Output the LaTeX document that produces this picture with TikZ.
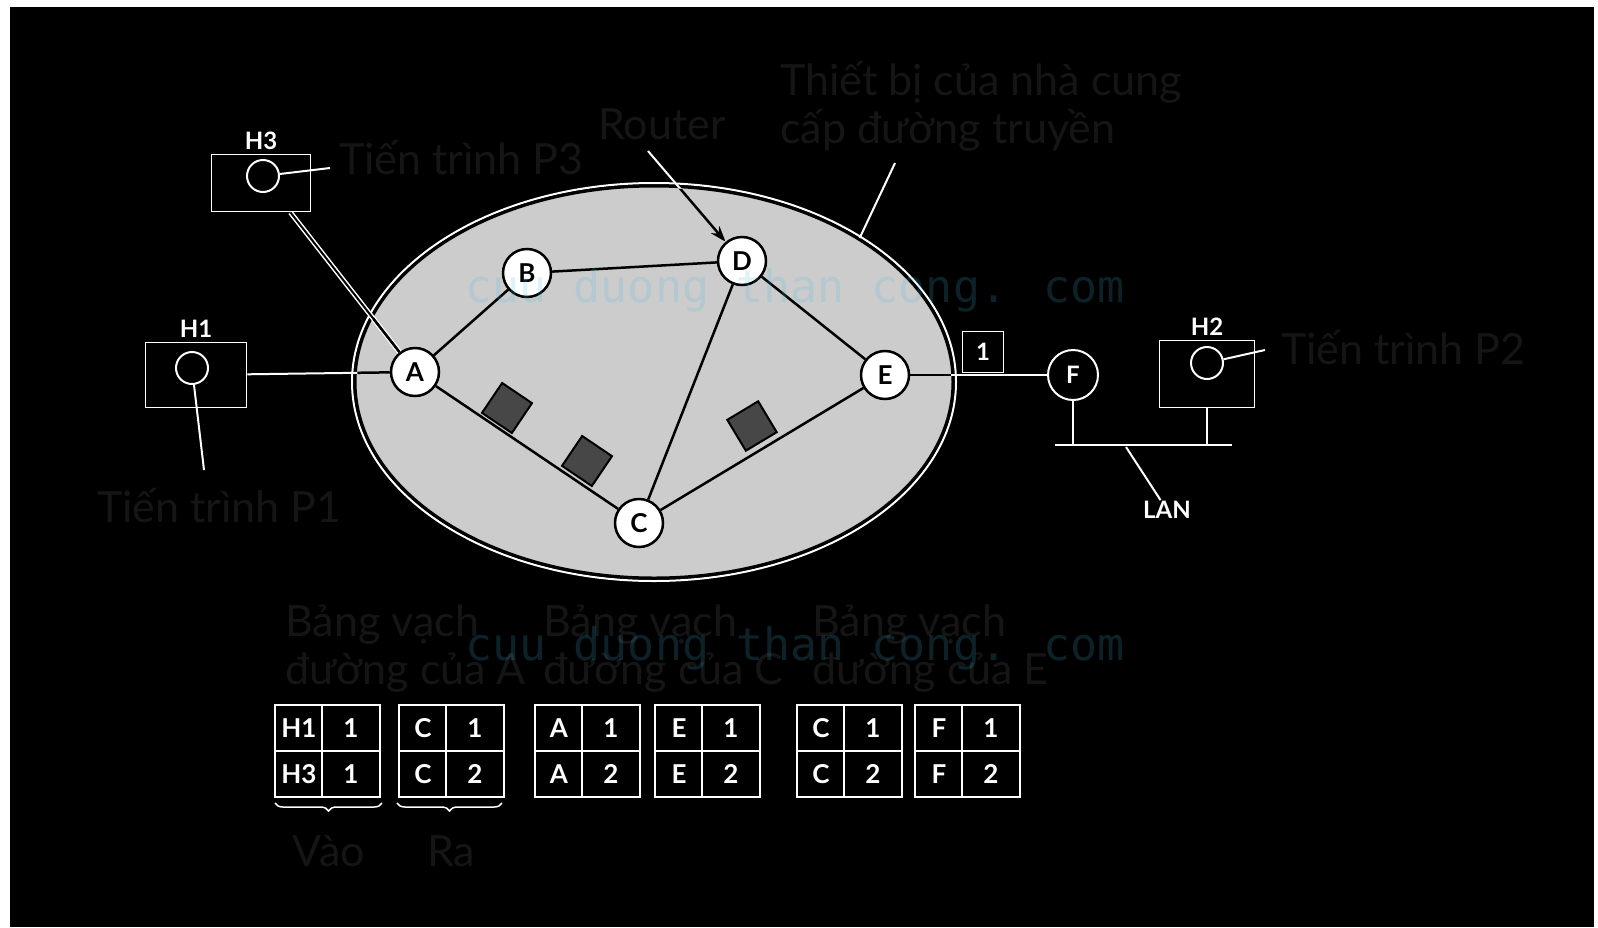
\documentclass[tikz,border=0pt]{standalone}
\usepackage{fontspec}
\setmainfont{Lato}
\newfontfamily\wmfont{DejaVu Sans Mono}
\usetikzlibrary{arrows.meta,positioning,shapes.geometric,decorations.pathreplacing}
\definecolor{inkdark}{HTML}{151515}
\definecolor{wmteal}{RGB}{67,183,222}
\definecolor{cloudgray}{HTML}{CCCCCC}

\begin{document}
\begin{tikzpicture}[
  x=1pt, y=-1pt,
  node distance=3pt,
  lbl/.style={text=inkdark, font=\fontsize{43}{48}\selectfont, inner sep=0pt},
  rtr/.style={circle, draw=black, line width=2.5pt, fill=white, minimum size=48pt, inner sep=0pt, font=\fontsize{26}{26}\selectfont\bfseries},
  pkt/.style={draw=black, line width=2pt, fill=black!72, minimum size=36pt, inner sep=0pt},
  hostbox/.style={draw=white, line width=1.8pt, inner sep=0pt},
  proc/.style={circle, draw=white, line width=2pt, minimum size=32pt, inner sep=0pt},
  wlbl/.style={text=white, font=\fontsize{24}{24}\selectfont\bfseries, inner sep=1pt},
  wire/.style={draw=white, line width=2pt},
  link/.style={draw=black, line width=2.5pt},
  tline/.style={draw=white, line width=1.5pt},
  cell/.style={text=white, font=\fontsize{26}{26}\selectfont\bfseries, inner sep=0pt},
  wmark/.style={text=wmteal, text opacity=0.18, font=\wmfont\fontsize{45}{45}\selectfont, inner sep=0pt}
]
\useasboundingbox (0,0) rectangle (1598,927);
\fill[white] (0,0) rectangle (1598,927);
\fill[black] (10,7) rectangle (1594,927);

% carrier network
\draw[white, line width=2pt] (654,382) ellipse [x radius=302pt, y radius=199pt];
\node[ellipse, draw=black, line width=3pt, fill=cloudgray, minimum width=598pt, minimum height=392pt] (net) at (654,382) {};

% routers
\node[rtr] (a) at (415,372) {A};
\node[rtr] (b) at (527,273) {B};
\node[rtr] (d) at (742,261) {D};
\node[rtr] (e) at (885,375) {E};
\node[rtr] (c) at (639,523) {C};

% hosts
\node[hostbox, minimum width=101pt, minimum height=65pt] (h1) at (196,375) {};
\node[proc] (p1) at (192,368) {};
\node[wlbl, above=of h1] (h1n) {H1};
\node[hostbox, minimum width=99pt, minimum height=57pt] (h3) at (261,183) {};
\node[proc] (p3) at (263,176) {};
\node[wlbl, above=of h3] (h3n) {H3};
\node[hostbox, minimum width=95pt, minimum height=67pt] (h2) at (1207,374) {};
\node[proc] (p2) at (1207,363) {};
\node[wlbl, above=of h2] (h2n) {H2};
\node[proc, minimum size=50pt, text=white, font=\fontsize{24}{24}\selectfont\bfseries] (f) at (1073,375) {F};
\node[hostbox, minimum width=41pt, minimum height=41pt, text=white, font=\fontsize{24}{24}\selectfont\bfseries] (pk4) at (983,352) {1};

% lines leaving the cloud
\coordinate (rtip) at (648,151);
\coordinate (ptip) at (895,163);
\draw[wire] (h1) -- (a);
\draw[wire, double=black, double distance=2pt, line width=1.5pt] (h3.-45) -- (a);
\draw[wire] (e) -- (f);
\draw[wire] (rtip) -- (d);
\draw[wire] (ptip) -- (net.35);
\begin{scope}
  \clip (654,382) ellipse [x radius=297pt, y radius=194pt];
  \draw[link] (h1) -- (a);
  \draw[link] (h3.-45) -- (a);
  \draw[link] (e) -- (f);
  \draw[link, -{Stealth[length=16pt, width=11pt]}] (rtip) -- (d);
\end{scope}

% links inside
\draw[link] (a) -- (b);
\draw[link] (b) -- (d);
\draw[link] (d) -- (c);
\draw[link] (d) -- (e);
\draw[link] (a) -- (c);
\draw[link] (c) -- (e);

% packets
\node[pkt, rotate=-34] (pk1) at (507,408) {};
\node[pkt, rotate=-34] (pk2) at (587,461) {};
\node[pkt, rotate=31] (pk3) at (752,426) {};

% LAN
\coordinate (busl) at (1055,445);
\coordinate (busr) at (1232,445);
\draw[wire] (busl) -- (busr);
\draw[wire] (f) -- (f |- busl);
\draw[wire] (h2) -- (h2 |- busl);
\node[wlbl] (lan) at (1167,510) {LAN};
\coordinate (lanp) at (1126,447);
\draw[wire] (lanp) -- (lan);

% processes
\coordinate (p1tip) at (204,470);
\coordinate (p3tip) at (330,168);
\coordinate (p2tip) at (1265,350);
\draw[wire] (p1) -- (p1tip);
\draw[wire] (p3) -- (p3tip);
\draw[wire] (p2) -- (p2tip);
\node[lbl, anchor=west] (lp1) at (97,506) {Tiến trình P1};
\node[lbl, anchor=west] (lp3) at (339,158) {Tiến trình P3};
\node[lbl, anchor=west] (lp2) at (1281,348) {Tiến trình P2};
\node[lbl] (lrouter) at (662,124) {Router};
\node[lbl, anchor=west] (lprov1) at (780,82) {Thiết bị của nhà cung};
\node[lbl, anchor=west] (lprov2) at (780,130) {cấp đường truyền};

% routing tables
\foreach \hx/\hr in {285/A, 543/C, 812/E} {
  \node[lbl, anchor=west] (hd\hr1) at (\hx,625) {Bảng vạch};
  \node[lbl, anchor=west] (hd\hr2) at (\hx,673) {đường của \hr};
}
\foreach \tx/\ti/\ra/\rb/\rc/\rd in {275/1/H1/1/H3/1, 399/2/C/1/C/2, 535/3/A/1/A/2, 655/4/E/1/E/2, 797/5/C/1/C/2, 915/6/F/1/F/2} {
  \draw[tline] (\tx,705) rectangle ++(105,92);
  \draw[tline] (\tx,751) -- ++(105,0);
  \draw[tline] (\tx+47,705) -- ++(0,92);
  \node[cell] (t\ti a) at (\tx+24,728) {\ra};
  \node[cell] (t\ti b) at (\tx+76,728) {\rb};
  \node[cell] (t\ti c) at (\tx+24,774) {\rc};
  \node[cell] (t\ti d) at (\tx+76,774) {\rd};
}
\draw[tline, decorate, decoration={brace, mirror, amplitude=8pt}] (275,803) -- (382,803);
\draw[tline, decorate, decoration={brace, mirror, amplitude=8pt}] (397,803) -- (502,803);
\node[lbl] (lin) at (329,851) {Vào};
\node[lbl] (lout) at (451,851) {Ra};

% watermark
\node[wmark] (wm1) at (795,290) {cuu duong than cong. com};
\node[wmark] (wm2) at (795,648) {cuu duong than cong. com};
\end{tikzpicture}
\end{document}
